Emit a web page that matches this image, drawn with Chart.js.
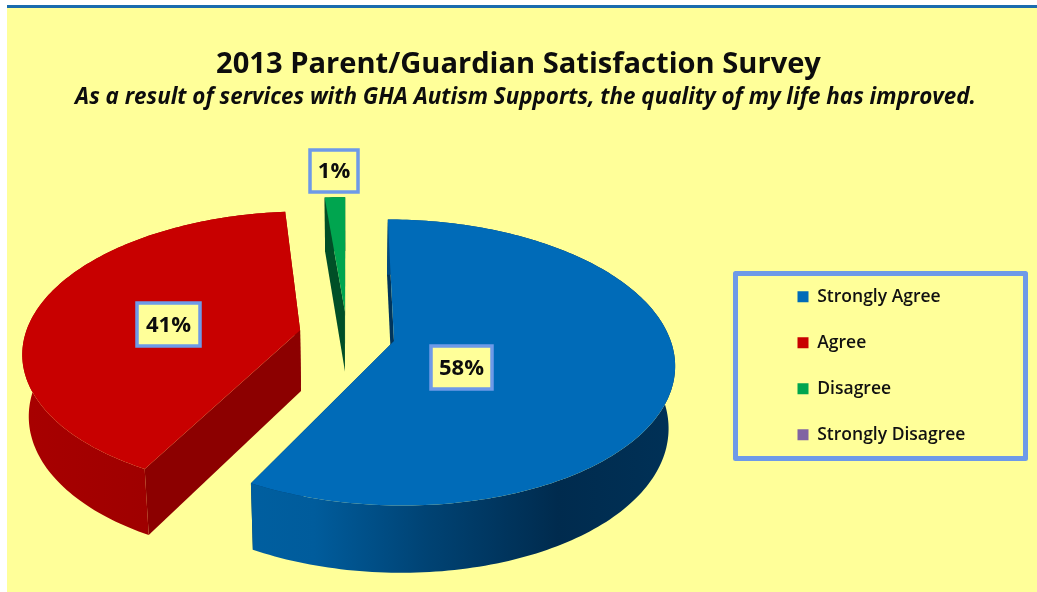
<!DOCTYPE html>
<html>
<head>
<meta charset="utf-8">
<title>2013 Parent/Guardian Satisfaction Survey</title>
<script src="https://cdn.jsdelivr.net/npm/chart.js@4"></script>
<style>
  html, body { margin: 0; padding: 0; background: #fff; overflow: hidden; }
  #wrap { position: relative; width: 1037px; height: 592px; }
  #rule { position: absolute; left: 7px; right: 0; top: 5px; height: 3px; background: #1b6cae; }
  #panel { position: absolute; left: 7px; right: 0; top: 8px; bottom: 0; background: #ffff99; }
  canvas { position: absolute; left: 0; top: 0; }
</style>
</head>
<body>
<div id="wrap">
  <div id="rule"></div>
  <div id="panel"></div>
  <canvas id="chart" width="1037" height="592"></canvas>
</div>
<script>
var categories = ['Strongly Agree', 'Agree', 'Disagree', 'Strongly Disagree'];
/* slice sizes, the labels show them rounded */
var percents = [57.8, 40.8, 1.4, 0];
var sliceColors = ['#006bb8', '#c80000', '#00a54f', '#8064a2'];
var titleText = '2013 Parent/Guardian Satisfaction Survey';
var subtitleText = 'As a result of services with GHA Autism Supports, the quality of my life has improved.';

/* tilted pie: screen placement and camera */
var PIE = { cx: 347, cy: 335, rx: 275, ry: 138, k: 0.15, explode: 0.175, shrink: 0.02 };
var BORDER = '#6e9ae8';

/* where each percent box sits, by category index */
var labelBoxes = [
  { x: 431, y: 346, w: 61, h: 43 },
  { x: 137, y: 303, w: 63, h: 43 },
  { x: 310, y: 150, w: 48, h: 42 }
];

function project(u, v) {
  var s = 1 / (1 - PIE.k * v);
  return { x: PIE.cx + PIE.rx * u * s, y: PIE.cy + PIE.ry * v * s };
}
function drop(p, v) {
  /* same point on the underside of the pie */
  return { x: p.x + (PIE.cx - p.x) * PIE.shrink, y: p.y + 61 + 6 * v };
}

function outline(arc) {
  var mid = (arc.startAngle + arc.endAngle) / 2;
  var ax = Math.cos(mid) * PIE.explode, ay = Math.sin(mid) * PIE.explode;
  var pts = [{ u: ax, v: ay }];
  var n = Math.max(2, Math.ceil((arc.endAngle - arc.startAngle) / 0.02));
  for (var i = 0; i <= n; i++) {
    var a = arc.startAngle + (arc.endAngle - arc.startAngle) * i / n;
    pts.push({ u: ax + Math.cos(a), v: ay + Math.sin(a) });
  }
  return pts;
}

function sideFill(ctx, idx) {
  var g = ctx.createLinearGradient(PIE.cx - 330, 0, PIE.cx + 330, 0);
  if (idx === 0) {
    g.addColorStop(0, '#0069ad');
    g.addColorStop(0.45, '#005c9c');
    g.addColorStop(0.62, '#004374');
    g.addColorStop(0.82, '#002b4e');
    g.addColorStop(1, '#003157');
  } else if (idx === 1) {
    g.addColorStop(0, '#a80000');
    g.addColorStop(0.3, '#9a0000');
    g.addColorStop(1, '#8c0000');
  } else {
    return '#004f27';
  }
  return g;
}

function edgeFill(idx) {
  return ['#00355c', '#8c0000', '#004f27', '#4d3c62'][idx];
}

function fillWall(ctx, pts) {
  /* band between a run of top-face points and the same run underneath */
  ctx.beginPath();
  pts.forEach(function (p, i) {
    var s = project(p.u, p.v);
    if (i === 0) ctx.moveTo(s.x, s.y); else ctx.lineTo(s.x, s.y);
  });
  pts.slice().reverse().forEach(function (p) {
    var s = drop(project(p.u, p.v), p.v);
    ctx.lineTo(s.x, s.y);
  });
  ctx.closePath();
  ctx.fill();
}

var tiltedPie = {
  id: 'tiltedPie',
  afterLayout: function (chart) {
    var lg = chart.legend;
    lg.left = 769; lg.right = lg.left + lg.width;
    lg.top = 259.5; lg.bottom = lg.top + lg.height;
    chart.boxes.forEach(function (b) {
      if (b.options && b.options.text === subtitleText) { b.left += 7; b.right += 7; }
    });
  },
  beforeDatasetDraw: function (chart) {
    var ctx = chart.ctx;
    var arcs = chart.getDatasetMeta(0).data;
    ctx.save();
    arcs.forEach(function (arc, idx) {
      if (arc.endAngle - arc.startAngle <= 0) return;
      var pts = outline(arc);
      var last = pts.length - 1;
      /* cut edges first, then the rim, then the top face over all of it */
      ctx.fillStyle = edgeFill(idx);
      fillWall(ctx, [pts[0], pts[1]]);
      fillWall(ctx, [pts[last], pts[0]]);
      ctx.fillStyle = sideFill(ctx, idx);
      fillWall(ctx, pts.slice(1));
      ctx.fillStyle = sliceColors[idx];
      ctx.beginPath();
      pts.forEach(function (p, i) {
        var s = project(p.u, p.v);
        if (i === 0) ctx.moveTo(s.x, s.y); else ctx.lineTo(s.x, s.y);
      });
      ctx.closePath();
      ctx.fill();
    });
    ctx.restore();
    return false;
  },
  afterDatasetsDraw: function (chart) {
    var ctx = chart.ctx;
    ctx.save();
    labelBoxes.forEach(function (b, i) {
      ctx.fillStyle = '#ffff99';
      ctx.strokeStyle = BORDER;
      ctx.lineWidth = 3.5;
      ctx.fillRect(b.x, b.y, b.w, b.h);
      ctx.strokeRect(b.x, b.y, b.w, b.h);
      ctx.fillStyle = '#0d0d0d';
      ctx.font = 'bold 22px "Open Sans"';
      ctx.textAlign = 'center';
      ctx.textBaseline = 'middle';
      ctx.fillText(Math.round(percents[i]) + '%', b.x + b.w / 2, b.y + b.h / 2 + 1);
    });
    /* frame round the legend */
    ctx.strokeStyle = BORDER;
    ctx.lineWidth = 5;
    ctx.lineJoin = 'round';
    ctx.strokeRect(735.5, 273.5, 290, 185);
    ctx.restore();
  }
};

new Chart(document.getElementById('chart'), {
  type: 'pie',
  plugins: [tiltedPie],
  data: {
    labels: categories,
    datasets: [{ data: percents, backgroundColor: sliceColors, borderWidth: 0 }]
  },
  options: {
    responsive: false,
    animation: false,
    rotation: 0,
    plugins: {
      tooltip: { enabled: false },
      title: {
        display: true,
        text: titleText,
        color: '#0d0d0d',
        font: { family: '"Open Sans"', size: 29.1, weight: 'bold' },
        padding: { top: 47, bottom: 2 }
      },
      subtitle: {
        display: true,
        text: subtitleText,
        color: '#0d0d0d',
        font: { family: '"Open Sans"', size: 22.4, weight: 'bold', style: 'italic' },
        padding: { top: 0, bottom: 10 }
      },
      legend: {
        position: 'right',
        align: 'start',
        labels: {
          boxWidth: 11,
          boxHeight: 11,
          padding: 28.5,
          color: '#111',
          font: { family: '"Open Sans"', size: 17.5, weight: '600' }
        }
      }
    }
  }
});
</script>
</body>
</html>
